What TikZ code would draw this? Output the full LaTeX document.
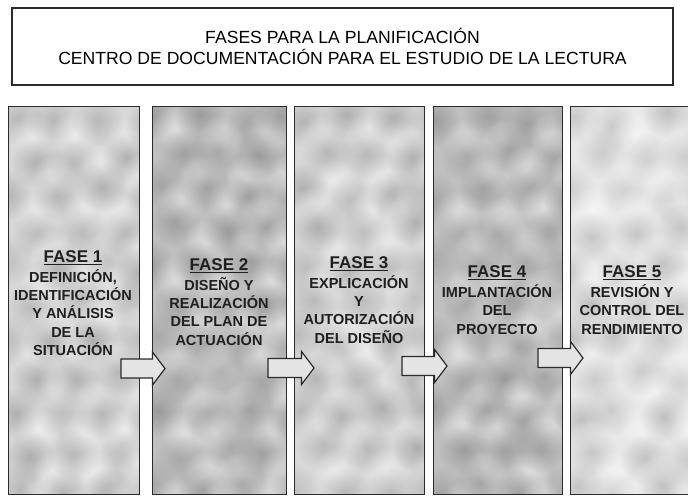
\documentclass[tikz,border=0pt]{standalone}
\usepackage{fontspec}
\setmainfont{Liberation Sans}
\usetikzlibrary{calc,fadings}
\definecolor{edgecol}{HTML}{2B2B2B}
\definecolor{lightcol}{HTML}{D8D8D8}
\definecolor{lightspot}{HTML}{9C9C9C}
\definecolor{darkcol}{HTML}{C0C0C0}
\definecolor{darkspot}{HTML}{8C8C8C}
\definecolor{palecol}{HTML}{E8E8E8}
\definecolor{palespot}{HTML}{B0B0B0}
\definecolor{arrowcol}{HTML}{E4E4E4}
\tikzfading[name=blobfade, inner color=transparent!0, outer color=transparent!100]
\tikzset{
  titlebox/.style={draw=edgecol, line width=1.4pt, fill=white, inner sep=0pt,
    minimum width=661pt, minimum height=77pt, align=center,
    font=\fontsize{17.6}{21}\selectfont},
  colbox/.style={inner sep=0pt, minimum width=130pt, minimum height=387pt},
  colframe/.style={draw=edgecol, line width=1.3pt},
  coltext/.style={inner sep=0pt, align=center, text=black!88,
    font=\bfseries\fontsize{14.5}{18.3}\selectfont},
  blockarrow/.style={draw=edgecol, line width=1.2pt, fill=arrowcol, line join=miter}
}
\newcommand\fasehead[1]{{\fontsize{17}{20}\selectfont\underline{#1}}}
% column texture: #1 node, #2 spot colour, #3 seed
\newcommand\colspots[3]{%
  \begin{scope}
    \clip (#1.north west) rectangle (#1.south east);
    \pgfmathsetseed{#3}
    \foreach \i in {0,...,10}{
      \foreach \j in {0,...,3}{
        \pgfmathsetmacro\bx{4+\j*44+mod(\i,2)*22+rand*8}
        \pgfmathsetmacro\by{12+\i*37+rand*8}
        \pgfmathsetmacro\op{0.4+0.35*rnd}
        \fill[#2, path fading=blobfade, fill opacity=\op] ($(#1.north west)+(\bx,\by)$) circle (26);
        \pgfmathsetmacro\wx{26+\j*44+mod(\i,2)*22+rand*8}
        \pgfmathsetmacro\wy{30+\i*37+rand*8}
        \fill[white, path fading=blobfade, fill opacity=0.5] ($(#1.north west)+(\wx,\wy)$) circle (24);
      }
    }
  \end{scope}
  \draw[colframe] (#1.north west) rectangle (#1.south east);
}
\newcommand\blockarr[2]{%
  \draw[blockarrow]
    ($(#1)+(0,-9.5)$) -- ($(#2)+(-12.5,-9.5)$) -- ($(#2)+(-12.5,-16.5)$) --
    (#2) -- ($(#2)+(-12.5,16.5)$) -- ($(#2)+(-12.5,9.5)$) -- ($(#1)+(0,9.5)$) -- cycle;
}
\begin{document}
\begin{tikzpicture}[x=1pt,y=-1pt]
\clip (0,0) rectangle (688,496);
\fill[white] (0,0) rectangle (688,496);

\node[titlebox] (title) at (342.5,46.5)
  {FASES PARA LA PLANIFICACIÓN\\CENTRO DE DOCUMENTACIÓN PARA EL ESTUDIO DE LA LECTURA};

\node[colbox, fill=lightcol] (c1) at (74,300.5) {};
\node[colbox, fill=darkcol, minimum width=133pt] (c2) at (219.5,300.5) {};
\node[colbox, fill=lightcol, minimum width=129pt] (c3) at (359.5,300.5) {};
\node[colbox, fill=darkcol, minimum width=128pt] (c4) at (498,300.5) {};
\node[colbox, fill=palecol] (c5) at (636,300.5) {};

\colspots{c1}{lightspot}{11}
\colspots{c2}{darkspot}{23}
\colspots{c3}{lightspot}{37}
\colspots{c4}{darkspot}{41}
\colspots{c5}{palespot}{53}

\node[coltext] (t1) at (73,303) {\fasehead{FASE 1}\\[1.5pt]DEFINICIÓN,\\IDENTIFICACIÓN\\Y ANÁLISIS\\DE LA\\SITUACIÓN};
\node[coltext] (t2) at (219,302) {\fasehead{FASE 2}\\[1.5pt]DISEÑO Y\\REALIZACIÓN\\DEL PLAN DE\\ACTUACIÓN};
\node[coltext] (t3) at (359,300) {\fasehead{FASE 3}\\[1.5pt]EXPLICACIÓN\\Y\\AUTORIZACIÓN\\DEL DISEÑO};
\node[coltext] (t4) at (497,300) {\fasehead{FASE 4}\\[1.5pt]IMPLANTACIÓN\\DEL\\PROYECTO};
\node[coltext] (t5) at (632,300) {\fasehead{FASE 5}\\[1.5pt]REVISIÓN Y\\CONTROL DEL\\RENDIMIENTO};

\coordinate (a1s) at (121,368.5);
\coordinate (a1t) at (165,368.5);
\coordinate (a2s) at (268,368);
\coordinate (a2t) at (314,368);
\coordinate (a3s) at (402,366);
\coordinate (a3t) at (447,366);
\coordinate (a4s) at (538,358);
\coordinate (a4t) at (583,358);
\blockarr{a1s}{a1t}
\blockarr{a2s}{a2t}
\blockarr{a3s}{a3t}
\blockarr{a4s}{a4t}
\end{tikzpicture}
\end{document}
